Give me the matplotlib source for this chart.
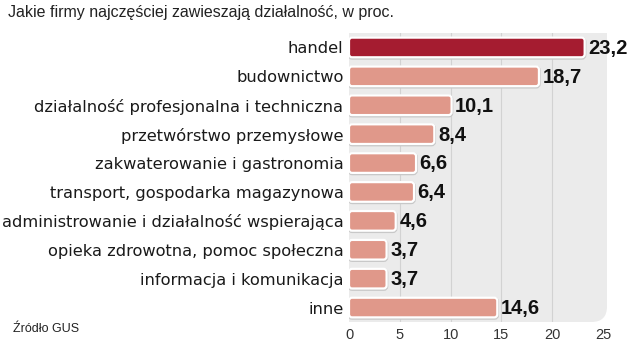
import matplotlib
matplotlib.use("Agg")
import matplotlib.pyplot as plt
from matplotlib.patches import FancyBboxPatch

categories = ["handel", "budownictwo", "działalność profesjonalna i techniczna",
              "przetwórstwo przemysłowe", "zakwaterowanie i gastronomia",
              "transport, gospodarka magazynowa",
              "administrowanie i działalność wspierająca",
              "opieka zdrowotna, pomoc społeczna",
              "informacja i komunikacja", "inne"]
values = [23.2, 18.7, 10.1, 8.4, 6.6, 6.4, 4.6, 3.7, 3.7, 14.6]
labels = ["23,2", "18,7", "10,1", "8,4", "6,6", "6,4", "4,6", "3,7", "3,7", "14,6"]
xticks = [0, 5, 10, 15, 20, 25]

plt.rcParams['font.family'] = ['Liberation Sans', 'DejaVu Sans']

fig = plt.figure(figsize=(6.3, 3.43), dpi=100)
ax = fig.add_axes([349 / 630, 1 - 322 / 343, 258 / 630, 289 / 343])
ax.set_xlim(0, 25.4)
ax.set_ylim(len(values) - 0.5, -0.5)
ax.set_facecolor("none")

# szare tło z zaokrąglonym prawym dolnym rogiem
bg = FancyBboxPatch((0, 0), 1, 1, boxstyle="round,pad=0,rounding_size=0.06",
                    transform=ax.transAxes, facecolor="#ebebeb",
                    edgecolor="none", zorder=0, mutation_aspect=0.9)
ax.add_patch(bg)
ax.add_patch(plt.Rectangle((0, 0.5), 1, 0.5, transform=ax.transAxes,
                           facecolor="#ebebeb", edgecolor="none", zorder=0))
ax.add_patch(plt.Rectangle((0, 0), 0.5, 1, transform=ax.transAxes,
                           facecolor="#ebebeb", edgecolor="none", zorder=0))

for x in xticks[1:-1]:
    ax.axvline(x, color="#d2d2d2", lw=0.8, zorder=1)

bar_h = 0.68
for i, v in enumerate(values):
    color = "#a51c30" if i == 0 else "#e0988a"
    # cień
    ax.add_patch(FancyBboxPatch((0.02, i - bar_h / 2 + 0.03), v, bar_h,
                                boxstyle="round,pad=0,rounding_size=0.3",
                                mutation_aspect=0.35, facecolor="#c8c8c8",
                                edgecolor="#c8c8c8", lw=2.2, zorder=2))
    ax.add_patch(FancyBboxPatch((0, i - bar_h / 2), v, bar_h,
                                boxstyle="round,pad=0,rounding_size=0.3",
                                mutation_aspect=0.35, facecolor=color,
                                edgecolor="white", lw=1.6, zorder=3))
    ax.text(v + 0.35, i + 0.03, labels[i], ha="left", va="center",
            fontsize=14.5, fontweight="bold", color="#111111", zorder=4)

ax.set_yticks(range(len(categories)))
ax.set_yticklabels(categories, fontsize=11.7, color="#1a1a1a",
                   family=["DejaVu Sans"])
ax.set_xticks(xticks)
ax.set_xticklabels([str(t) for t in xticks], fontsize=10.5, color="#333333")
ax.tick_params(length=0, axis="y", pad=4)
ax.tick_params(length=0, axis="x", pad=4)
for s in ax.spines.values():
    s.set_visible(False)

fig.text(8 / 630, 1 - 12 / 343, "Jakie firmy najczęściej zawieszają działalność, w proc.",
         fontsize=11.5, color="#222222", va="center", ha="left")
fig.text(13 / 630, 1 - 329 / 343, "Źródło GUS", fontsize=9, color="#222222",
         va="center", ha="left")

fig.savefig("out.png", dpi=100)
